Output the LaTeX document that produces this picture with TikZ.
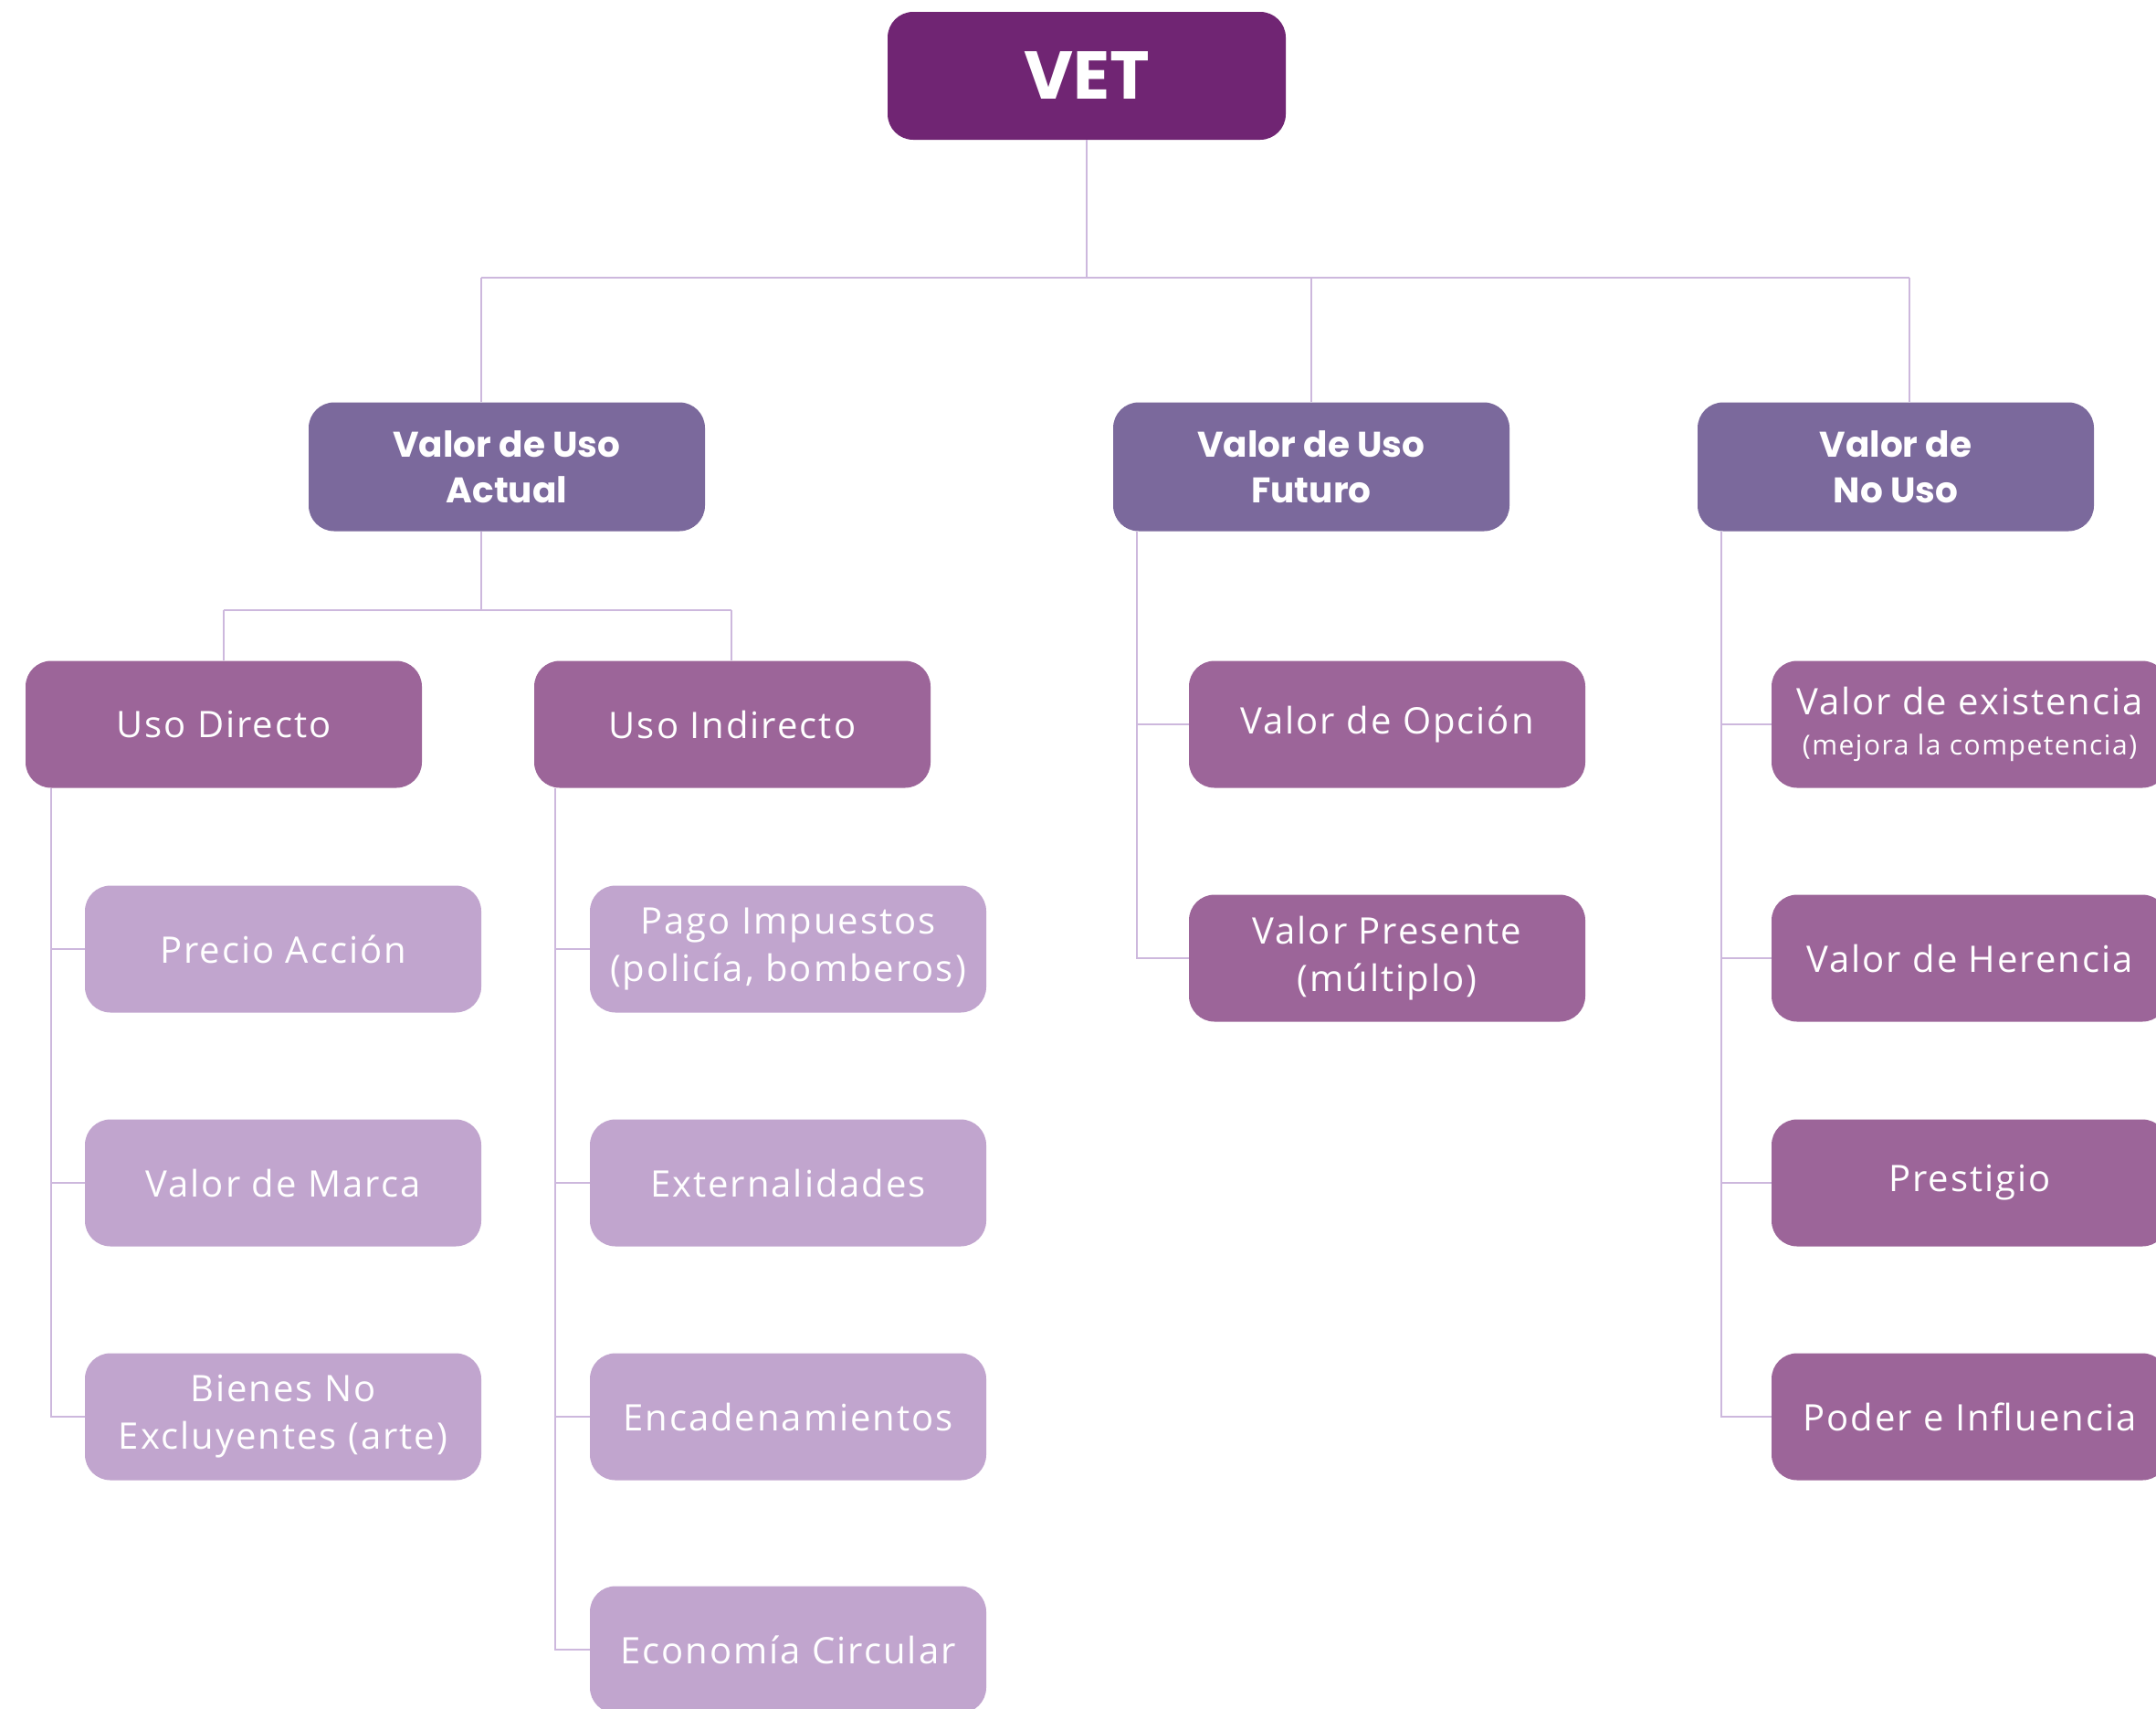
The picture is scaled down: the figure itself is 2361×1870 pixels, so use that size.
\documentclass[tikz,border=0pt]{standalone}
\usepackage{fontspec}
\setmainfont{Open Sans}[LetterSpace=5]
\newfontfamily\headfont{Poppins}
\definecolor{cvet}{HTML}{702573}
\definecolor{clvl}{HTML}{7B699C}
\definecolor{cmid}{HTML}{9C6599}
\definecolor{clight}{HTML}{C1A5CE}
\definecolor{cline}{HTML}{CDB8DD}
\tikzset{
  basebox/.style={rounded corners=14pt, inner sep=0pt, align=center, text=white,
    minimum width=217pt, minimum height=69.5pt},
  vetbox/.style={basebox, fill=cvet, minimum width=218pt, minimum height=70pt,
    font=\headfont\bfseries\fontsize{37}{40}\selectfont},
  lvlbox/.style={basebox, fill=clvl, minimum height=70.5pt,
    font=\headfont\bfseries\fontsize{19.5}{25}\selectfont},
  midbox/.style={basebox, fill=cmid, font=\fontsize{20}{26}\selectfont},
  lightbox/.style={basebox, fill=clight, font=\fontsize{20}{26}\selectfont},
  conn/.style={draw=cline, line width=1pt}
}
\begin{document}
\begin{tikzpicture}[x=0.5pt,y=-0.5pt]
\useasboundingbox (0,0) rectangle (2361,1870);
% nodes
\node[vetbox] (vet) at (1190,83) {VET};
\node[lvlbox] (actual) at (555,511) {Valor de Uso\\Actual};
\node[lvlbox] (futuro) at (1436,511) {Valor de Uso\\Futuro};
\node[lvlbox] (nouso) at (2076,511) {Valor de\\No Uso};
\node[midbox] (directo) at (245,793) {Uso Directo};
\node[midbox] (indirecto) at (802,793) {Uso Indirecto};
\node[lightbox] (precio) at (310,1039) {Precio Acción};
\node[lightbox] (marca) at (310,1295) {Valor de Marca};
\node[lightbox] (bienes) at (310,1551) {Bienes No\\Excluyentes (arte)};
\node[lightbox] (pago) at (863,1039) {Pago Impuestos\\(policía, bomberos)};
\node[lightbox] (extern) at (863,1295) {Externalidades};
\node[lightbox] (encad) at (863,1551) {Encadenamientos};
\node[lightbox] (econ) at (863,1806) {Economía Circular};
\node[midbox] (opcion) at (1519,793) {Valor de Opción};
\node[midbox] (presente) at (1519,1049) {Valor Presente\\(múltiplo)};
\node[midbox] (exist) at (2157,793) {Valor de existencia\\[-4pt]{\fontsize{15}{18}\selectfont(mejora la competencia)}};
\node[midbox] (herencia) at (2157,1049) {Valor de Herencia};
\node[midbox] (prestigio) at (2157,1295) {Prestigio};
\node[midbox] (poder) at (2157,1551) {Poder e Influencia};
% bus coordinates
\coordinate (bus) at (0,304);
\coordinate (ja) at (527,304);
\coordinate (jf) at (1436,304);
\coordinate (jn) at (2091,304);
\coordinate (bus2) at (0,668);
\coordinate (jd) at (245,668);
\coordinate (ji) at (801,668);
\coordinate (ja2) at (527,0);
\coordinate (dl) at (56,0);
\coordinate (il) at (608,0);
\coordinate (fl) at (1245,0);
\coordinate (nl) at (1885,0);
% top level connectors
\draw[conn] (vet.south) -- (vet.south |- bus);
\draw[conn] (ja) -- (jn);
\draw[conn] (ja) -- (ja |- actual.north);
\draw[conn] (jf) -- (jf |- futuro.north);
\draw[conn] (jn) -- (jn |- nouso.north);
% actual children
\draw[conn] (ja2 |- actual.south) -- (ja2 |- bus2);
\draw[conn] (jd) -- (ji);
\draw[conn] (jd) -- (jd |- directo.north);
\draw[conn] (ji) -- (ji |- indirecto.north);
% directo children
\draw[conn] (dl |- directo.south) -- (dl |- bienes.west) -- (bienes.west);
\draw[conn] (dl |- precio.west) -- (precio.west);
\draw[conn] (dl |- marca.west) -- (marca.west);
% indirecto children
\draw[conn] (il |- indirecto.south) -- (il |- econ.west) -- (econ.west);
\draw[conn] (il |- pago.west) -- (pago.west);
\draw[conn] (il |- extern.west) -- (extern.west);
\draw[conn] (il |- encad.west) -- (encad.west);
% futuro children
\draw[conn] (fl |- futuro.south) -- (fl |- presente.west) -- (presente.west);
\draw[conn] (fl |- opcion.west) -- (opcion.west);
% no uso children
\draw[conn] (nl |- nouso.south) -- (nl |- poder.west) -- (poder.west);
\draw[conn] (nl |- exist.west) -- (exist.west);
\draw[conn] (nl |- herencia.west) -- (herencia.west);
\draw[conn] (nl |- prestigio.west) -- (prestigio.west);
\end{tikzpicture}
\end{document}
